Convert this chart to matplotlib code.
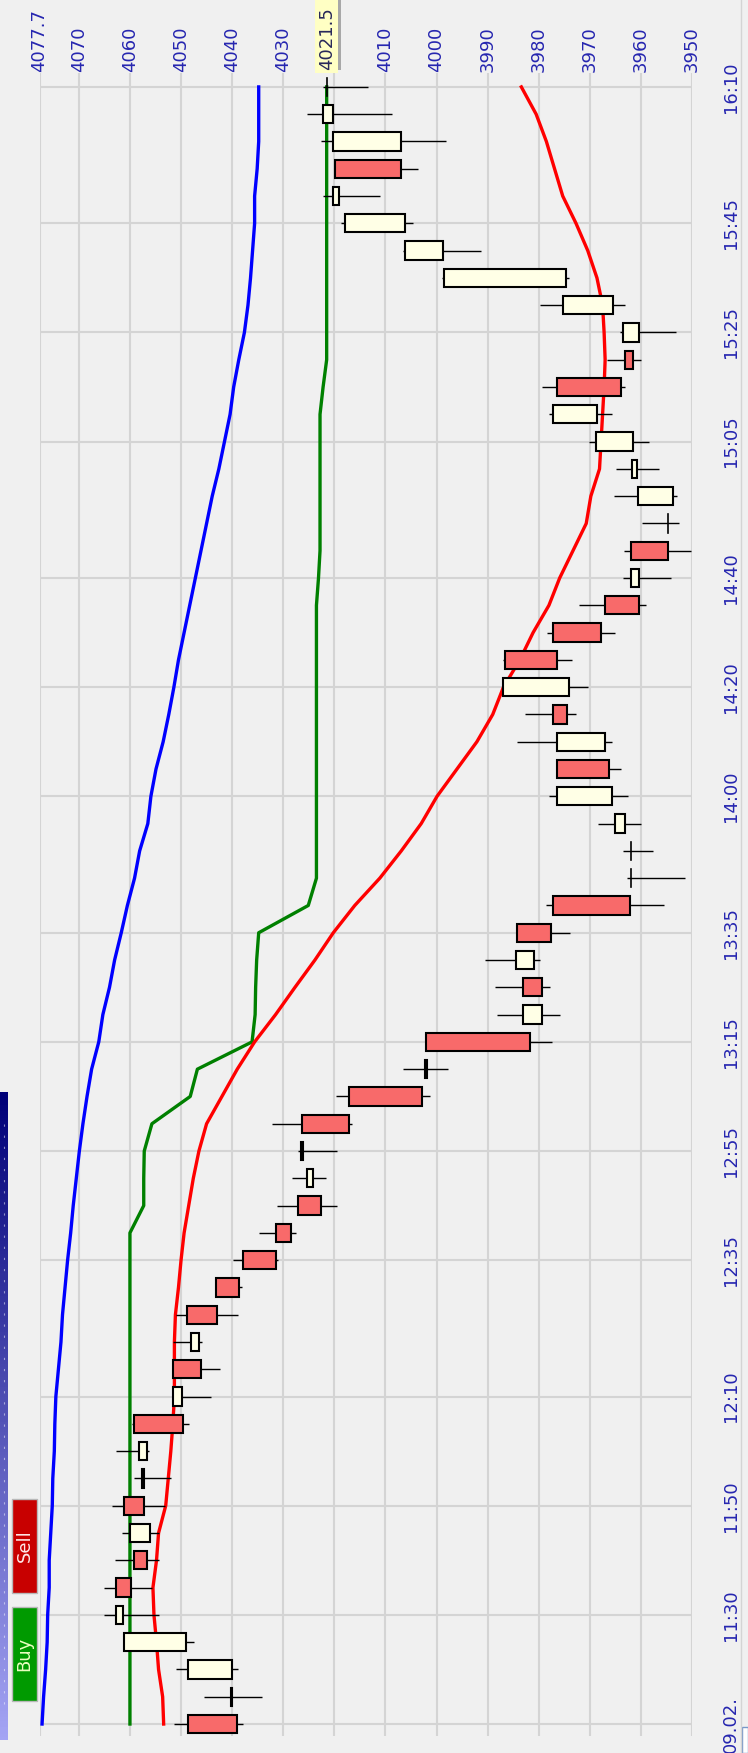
#!/usr/bin/env python3
# -*- coding: utf-8 -*-
# Rotated 5-min candle chart (09.02.), price axis on top, time on the right
import matplotlib
matplotlib.use("Agg")
import matplotlib.pyplot as plt
import matplotlib.transforms as mtrans
from matplotlib.patches import Rectangle
import numpy as np

W, H = 748, 1753

# bar 0 = 11:10, one bar every 5 minutes up to 16:10
opens = [4048.6, 4040.3, 4040.0, 4049.0, 4061.4, 4062.7, 4059.2, 4056.0, 4061.1, 4057.6,
         4056.7, 4059.2, 4049.9, 4051.5, 4046.4, 4048.8, 4043.2, 4037.8, 4031.5, 4027.2,
         4024.1, 4026.5, 4026.4, 4017.1, 4002.2, 4002.1, 3979.4, 3983.0, 3980.9, 3984.2,
         3977.2, 3962.0, 3962.0, 3963.1, 3965.7, 3976.4, 3967.0, 3977.2, 3974.0, 3986.5,
         3977.2, 3967.0, 3960.4, 3962.0, 3954.7, 3953.8, 3960.7, 3961.5, 3968.6, 3976.4,
         3963.1, 3960.4, 3965.4, 3974.7, 3998.7, 4006.2, 4019.1, 4019.9, 4007.0, 4020.3,
         4021.4]
highs = [4051.4, 4045.5, 4050.9, 4061.3, 4065.1, 4065.1, 4063.0, 4061.5, 4063.5, 4059.2,
         4062.7, 4059.5, 4051.6, 4051.7, 4051.6, 4051.0, 4043.3, 4039.8, 4034.8, 4031.3,
         4028.2, 4027.2, 4032.1, 4019.6, 4006.5, 4002.2, 3988.1, 3988.6, 3990.5, 3984.3,
         3978.5, 3962.8, 3963.6, 3968.3, 3978.0, 3976.5, 3984.3, 3982.7, 3987.0, 3987.0,
         3978.4, 3972.2, 3963.6, 3963.3, 3959.8, 3965.2, 3964.8, 3970.2, 3978.0, 3979.3,
         3966.6, 3964.1, 3979.7, 3999.0, 4006.6, 4018.7, 4022.3, 4020.0, 4022.7, 4025.4,
         4022.3]
lows = [4037.9, 4034.1, 4038.8, 4047.4, 4054.4, 4055.6, 4054.4, 4054.4, 4053.2, 4052.0,
        4056.2, 4048.5, 4044.2, 4042.4, 4045.8, 4038.8, 4038.0, 4031.0, 4027.5, 4019.4,
        4021.6, 4019.4, 4016.6, 4001.3, 3997.7, 3977.4, 3975.9, 3977.8, 3979.8, 3973.9,
        3955.4, 3951.3, 3957.6, 3959.9, 3962.6, 3963.8, 3965.7, 3972.8, 3970.4, 3973.5,
        3965.0, 3959.1, 3954.1, 3950.1, 3952.5, 3952.9, 3956.5, 3958.4, 3965.7, 3963.1,
        3959.9, 3953.2, 3963.1, 3974.0, 3991.2, 4004.6, 4011.1, 4003.7, 3998.2, 4008.8,
        4013.5]
closes = [4039.1, 4040.0, 4048.6, 4061.1, 4062.7, 4059.8, 4056.7, 4060.0, 4057.2, 4057.3,
          4058.3, 4049.7, 4051.5, 4046.0, 4048.1, 4042.9, 4038.6, 4031.5, 4028.4, 4022.6,
          4025.3, 4026.2, 4017.1, 4002.9, 4001.9, 3981.7, 3983.0, 3979.4, 3984.5, 3977.5,
          3962.2, 3962.0, 3962.0, 3965.1, 3976.4, 3966.2, 3976.4, 3974.4, 3986.9, 3976.4,
          3967.8, 3960.4, 3962.0, 3954.7, 3954.7, 3960.5, 3961.7, 3968.7, 3977.2, 3963.9,
          3961.5, 3963.6, 3975.3, 3998.6, 4006.2, 4017.9, 4020.3, 4007.0, 4020.3, 4022.3,
          4021.4]

blue_line = [4077.2, 4076.9, 4076.5, 4076.2, 4076.1, 4075.8, 4075.8, 4075.5, 4075.2, 4075.1,
             4074.8, 4074.7, 4074.5, 4074.0, 4073.5, 4073.2, 4072.7, 4072.2, 4071.6, 4071.1,
             4070.5, 4069.9, 4069.2, 4068.4, 4067.5, 4066.1, 4065.3, 4064.0, 4063.0, 4061.7,
             4060.5, 4059.1, 4058.1, 4056.5, 4055.9, 4054.9, 4053.5, 4052.4, 4051.4, 4050.5,
             4049.4, 4048.3, 4047.2, 4046.1, 4045.0, 4043.9, 4042.6, 4041.5, 4040.4, 4039.7,
             4038.7, 4037.6, 4036.9, 4036.4, 4036.0, 4035.6, 4035.6, 4035.1, 4034.8, 4034.8,
             4034.8]
green_line = [4060.0, 4060.0, 4060.0, 4060.0, 4060.0, 4060.0, 4060.0, 4060.0, 4060.0, 4060.0,
              4060.0, 4060.0, 4060.0, 4060.0, 4060.0, 4060.0, 4060.0, 4060.0, 4060.0, 4057.3,
              4057.3, 4057.2, 4055.7, 4048.2, 4046.8, 4036.1, 4035.5, 4035.4, 4035.2, 4034.8,
              4025.1, 4023.5, 4023.5, 4023.5, 4023.5, 4023.5, 4023.5, 4023.5, 4023.5, 4023.5,
              4023.5, 4023.5, 4023.1, 4022.8, 4022.8, 4022.8, 4022.8, 4022.8, 4022.8, 4022.2,
              4021.5, 4021.5, 4021.5, 4021.5, 4021.5, 4021.5, 4021.5, 4021.5, 4021.5, 4021.5,
              4021.5]
red_line = [4053.4, 4053.6, 4054.4, 4054.8, 4055.3, 4055.5, 4054.8, 4054.4, 4053.0, 4052.5,
            4052.0, 4051.6, 4051.3, 4051.3, 4051.3, 4051.1, 4050.5, 4050.0, 4049.4, 4048.5,
            4047.6, 4046.5, 4045.0, 4042.0, 4039.0, 4035.6, 4031.5, 4027.7, 4023.8, 4020.2,
            4016.0, 4011.1, 4006.9, 4003.0, 3999.9, 3996.0, 3992.1, 3989.0, 3986.9, 3983.7,
            3981.1, 3978.0, 3975.9, 3973.3, 3970.7, 3969.8, 3968.1, 3967.8, 3967.5, 3967.2,
            3967.0, 3967.2, 3967.5, 3968.6, 3970.4, 3972.7, 3975.3, 3976.9, 3978.5, 3980.5,
            3983.4]

time_pos = [0, 4, 8, 12, 17, 21, 25, 29, 34, 38, 42, 47, 51, 55, 60]
time_labels = ["09.02.", "11:30", "11:50", "12:10", "12:35", "12:55", "13:15", "13:35",
               "14:00", "14:20", "14:40", "15:05", "15:25", "15:45", "16:10"]
price_grid = [4077.7, 4070, 4060, 4050, 4040, 4030, 4020, 4010, 4000, 3990, 3980, 3970, 3960, 3950]
price_labels = ["4077.7", "4070", "4060", "4050", "4040", "4030", "", "4010", "4000",
                "3990", "3980", "3970", "3960", "3950"]
last_value = 4021.5

BG = "#f0f0f0"
LBL = "#2626b0"
UP = "#ffffe6"
DOWN = "#f86a6a"


def fx(x):
    return x / W


def fy(y):
    return 1 - y / H


fig = plt.figure(figsize=(W / 100, H / 100), dpi=100, facecolor=BG)

# chart area (price decreasing to the right, time going up)
top_px, bot_px = 73.0, 1736.3
ax = fig.add_axes([fx(39.5), fy(bot_px), fx(692 - 39.5), (bot_px - top_px) / H])
ax.set_facecolor(BG)
ax.set_xlim(4077.7, 3950)
ax.set_ylim(-0.45, 60.51)
for s in ax.spines.values():
    s.set_visible(False)
ax.set_xticks([])
ax.set_yticks([])

for p in price_grid:
    ax.axvline(p, color="#d4d4d4", lw=1.5, zorder=0)
for t in time_pos:
    ax.axhline(t, color="#d4d4d4", lw=1.5, zorder=0)

bars = np.arange(len(opens))
ax.plot(blue_line, bars, color="#0000ff", lw=2.4, zorder=2)
ax.plot(green_line, bars, color="#008000", lw=2.4, zorder=2)
ax.plot(red_line, bars, color="#ff0000", lw=2.4, zorder=2)

# candles
half = 0.335
for i in bars:
    o, h, l, c = opens[i], highs[i], lows[i], closes[i]
    ax.plot([l, h], [i, i], color="black", lw=1.0, zorder=3, solid_capstyle="butt")
    if c == o:
        ax.plot([o, o], [i - half, i + half], color="black", lw=1.2, zorder=4)
        continue
    fc = UP if c > o else DOWN
    ax.add_patch(Rectangle((min(o, c), i - half), abs(c - o), 2 * half,
                           facecolor=fc, edgecolor="black", lw=1.5, zorder=4))

# price labels on top
tr_x = mtrans.blended_transform_factory(ax.transData, fig.transFigure)
for p, s in zip(price_grid, price_labels):
    if s:
        fig.text(p, fy(72), s, transform=tr_x, rotation=90, ha="center", va="bottom",
                 color=LBL, fontsize=13)

# current value box
bx = ax.transData.transform((last_value, 0))[0]
fig.patches.append(Rectangle((fx(bx - 11.5), fy(73)), fx(23), 73 / H, transform=fig.transFigure,
                             facecolor="#ffffc4", edgecolor="none", zorder=5))
fig.patches.append(Rectangle((fx(bx + 11.5), fy(70)), fx(3), 70 / H, transform=fig.transFigure,
                             facecolor="#a8a8a8", edgecolor="none", zorder=5))
fig.text(fx(bx), fy(70), "4021.5", rotation=90, ha="center", va="bottom",
         color="#28285a", fontsize=13, zorder=6)

# time labels on the right
tr_y = mtrans.blended_transform_factory(fig.transFigure, ax.transData)
for t, s in zip(time_pos, time_labels):
    fig.text(fx(731), t, s, transform=tr_y, rotation=90, ha="center", va="center",
             color=LBL, fontsize=13)

# left side panel strip (gradient) + buttons
gax = fig.add_axes([0, fy(1740), fx(8), (1740 - 1092) / H])
grad = np.linspace(0, 1, 200)[:, None]
cmap = matplotlib.colors.LinearSegmentedColormap.from_list("pnl", ["#000078", "#a4a4f4"])
gax.imshow(grad, aspect="auto", cmap=cmap, extent=[0, 1, 1, 0])
gax.plot([0.55, 0.55], [0.05, 0.95], color="white", lw=0.8, ls=(0, (2, 8)), alpha=0.5)
gax.set_xlim(0, 1)
gax.set_ylim(1, 0)
gax.axis("off")

for label, y0, y1, fc, tc in [("Sell", 1499, 1593, "#c80000", "#ffe8e8"),
                              ("Buy", 1607, 1701, "#009a00", "#eaffc0")]:
    fig.patches.append(Rectangle((fx(12), fy(y1)), fx(25), (y1 - y0) / H, transform=fig.transFigure,
                                 facecolor=fc, edgecolor="#b8b8b8", lw=1.0))
    fig.text(fx(24.5), fy((y0 + y1) / 2), label, rotation=90, ha="center", va="center",
             color=tc, fontsize=13)

# window frame bits on the right
fig.add_artist(plt.Line2D([fx(741), fx(741)], [0, 1], color="#d4d4d4", lw=1.0))
fig.patches.append(Rectangle((fx(742), 0), fx(6), 26 / H, transform=fig.transFigure,
                             facecolor="white", edgecolor="#7898c8", lw=1.0))

fig.savefig("out.png", dpi=100, facecolor=BG)
